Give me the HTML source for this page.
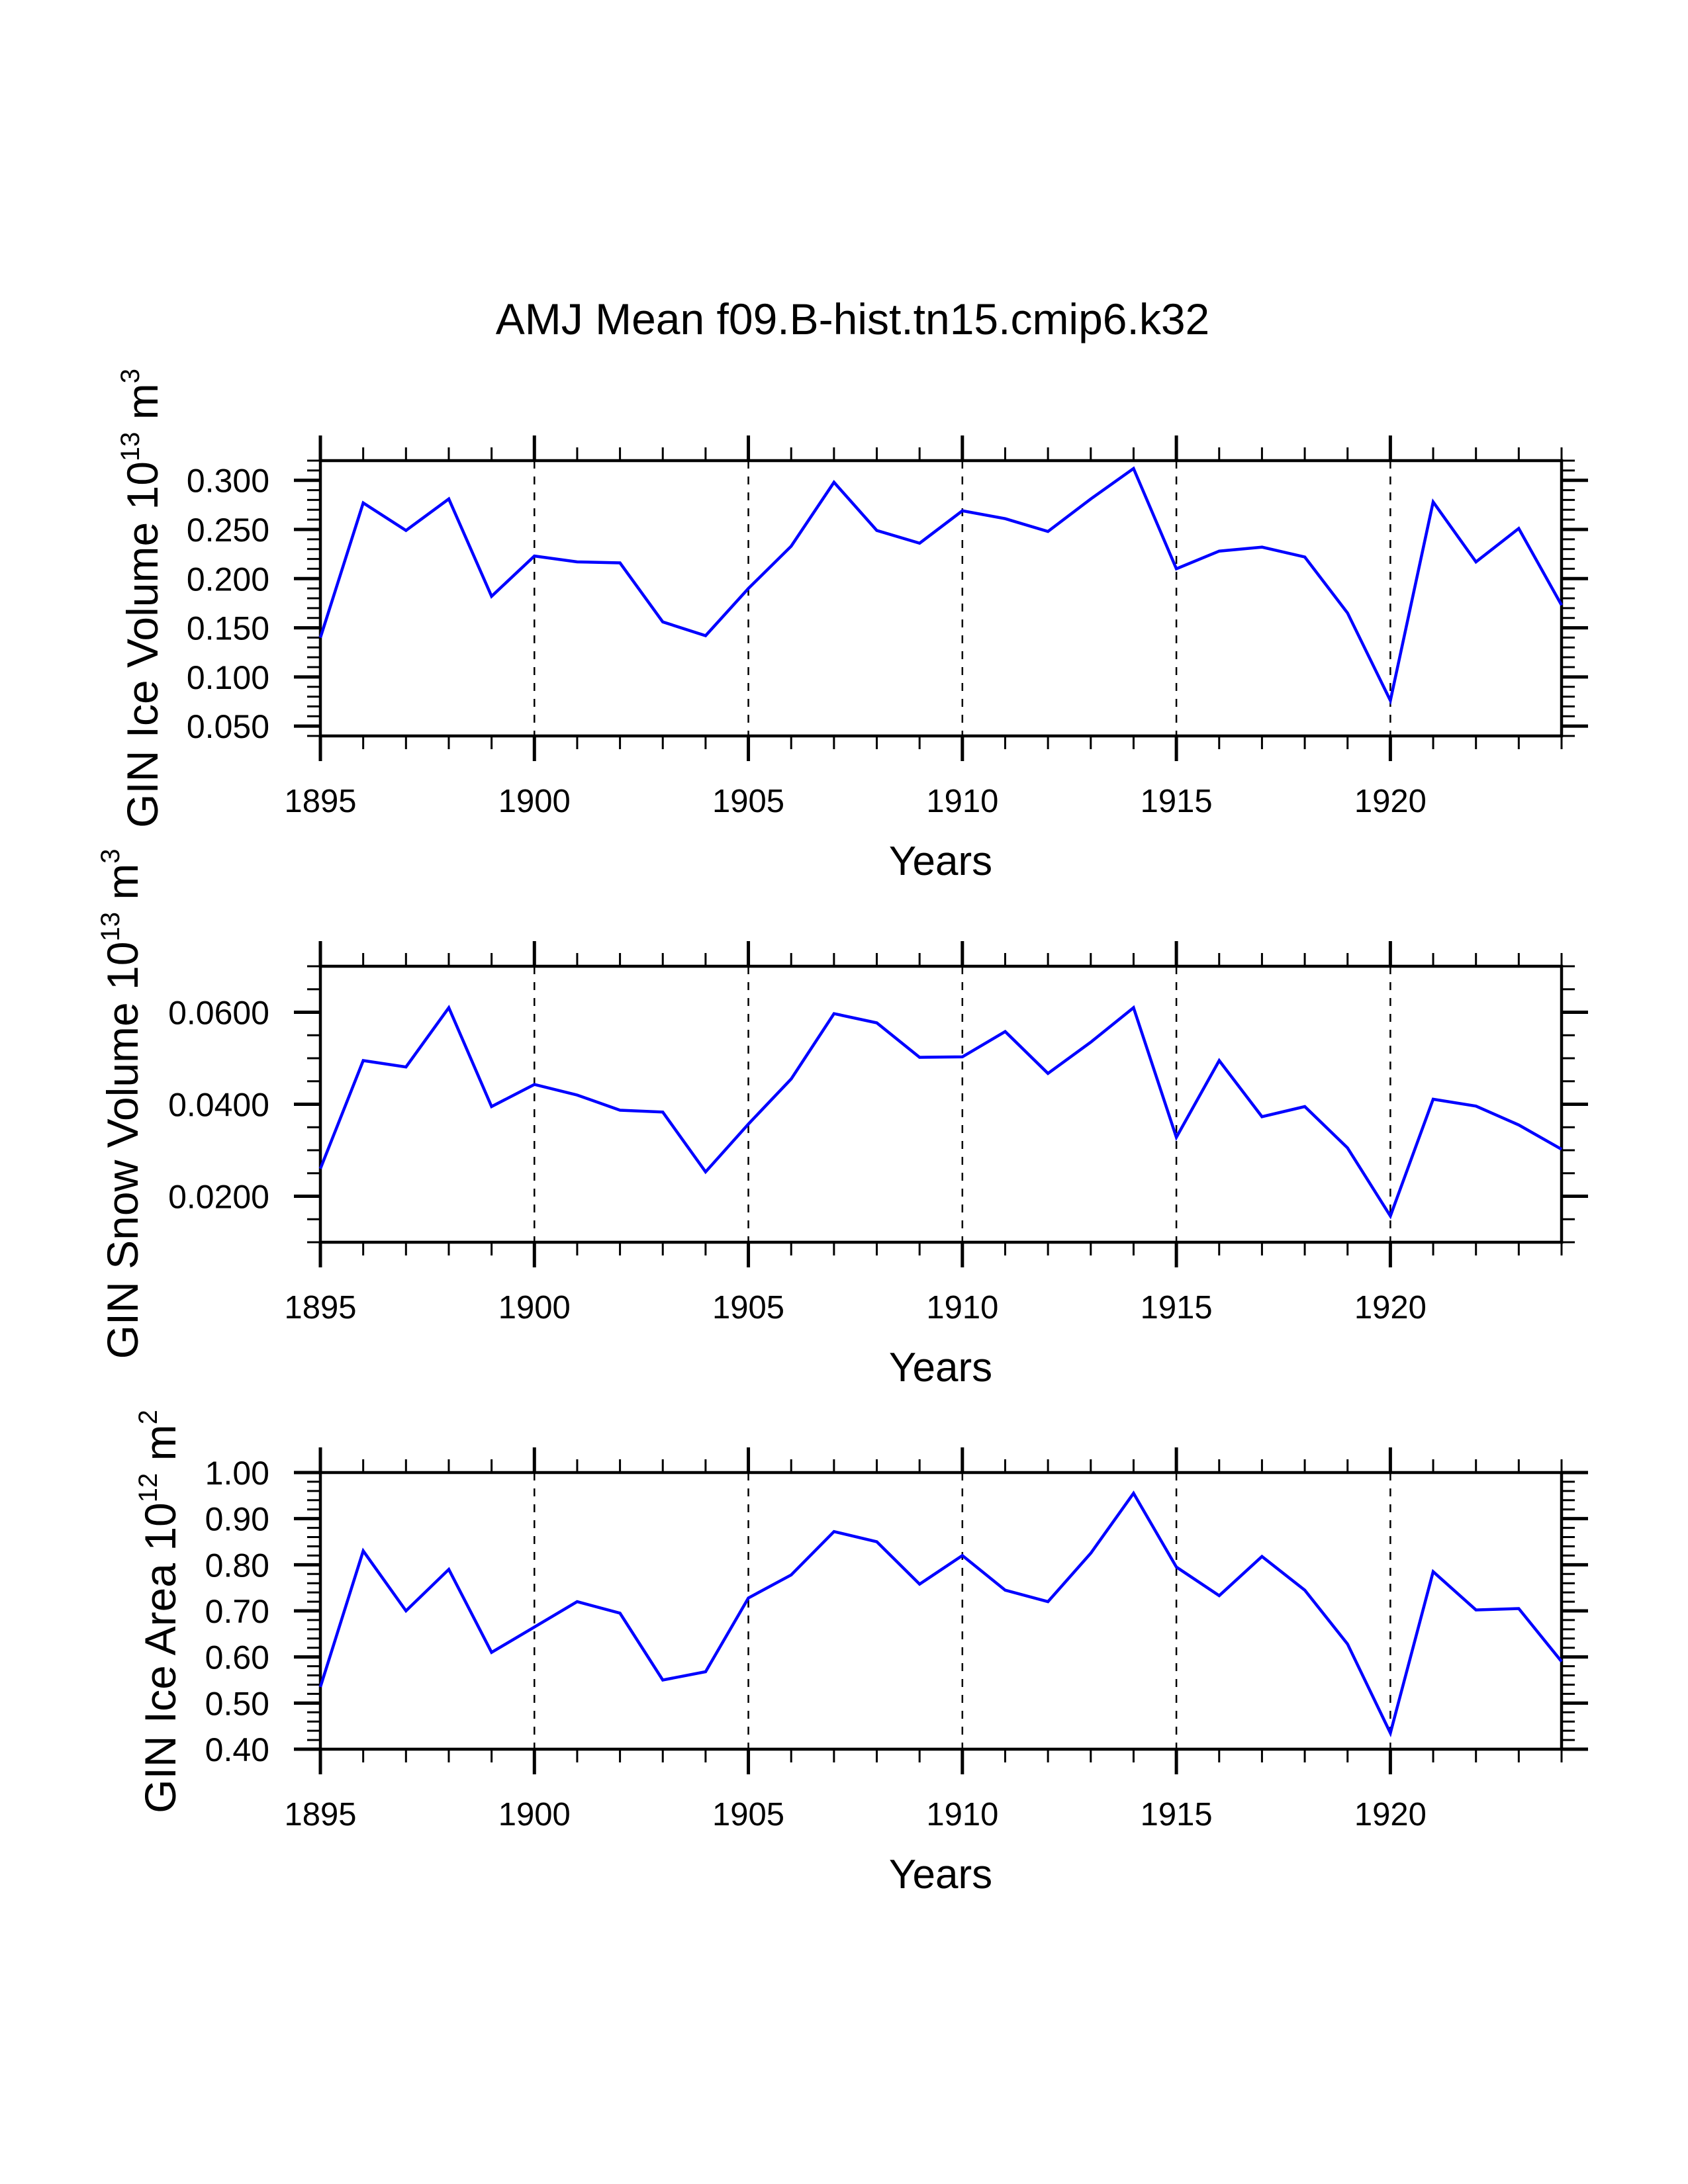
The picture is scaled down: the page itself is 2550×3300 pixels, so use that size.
<!DOCTYPE html>
<html><head><meta charset="utf-8"><style>
html,body{margin:0;padding:0;background:#fff}
svg{display:block}
text{font-family:"Liberation Sans",Arial,sans-serif;fill:#000}
</style></head><body>
<svg id="chart" width="2550" height="3300" viewBox="0 0 2550 3300" xmlns="http://www.w3.org/2000/svg">
<rect width="2550" height="3300" fill="#fff"/>
<text x="1288" y="505" font-size="66" text-anchor="middle">AMJ Mean f09.B-hist.tn15.cmip6.k32</text>
</svg>
<script>
const years = [1895,1896,1897,1898,1899,1900,1901,1902,1903,1904,1905,1906,1907,1908,1909,1910,1911,1912,1913,1914,1915,1916,1917,1918,1919,1920,1921,1922,1923,1924];
const iceVolume = [0.140,0.277,0.249,0.281,0.182,0.223,0.217,0.216,0.156,0.142,0.190,0.233,0.298,0.249,0.236,0.269,0.261,0.248,0.281,0.312,0.210,0.228,0.232,0.222,0.165,0.076,0.278,0.217,0.251,0.173];
const snowVolume = [0.0260,0.0495,0.0481,0.0610,0.0395,0.0443,0.0420,0.0387,0.0383,0.0253,0.0357,0.0455,0.0597,0.0577,0.0502,0.0503,0.0558,0.0467,0.0535,0.0610,0.0328,0.0495,0.0373,0.0395,0.0305,0.0157,0.0411,0.0396,0.0355,0.0302];
const iceArea = [0.535,0.830,0.700,0.790,0.610,0.665,0.720,0.695,0.550,0.568,0.728,0.778,0.872,0.850,0.758,0.820,0.745,0.720,0.825,0.955,0.795,0.733,0.818,0.745,0.628,0.435,0.785,0.702,0.705,0.590];
const xTickLabels = [1895,1900,1905,1910,1915,1920];
const iceVolTicks = ["0.050","0.100","0.150","0.200","0.250","0.300"];
const snowTicks = ["0.0200","0.0400","0.0600"];
const areaTicks = ["0.40","0.50","0.60","0.70","0.80","0.90","1.00"];

const NS = "http://www.w3.org/2000/svg";
const svg = document.getElementById('chart');
function mk(tag, attrs, parent){
  const e = document.createElementNS(NS, tag);
  for (const k in attrs) e.setAttribute(k, attrs[k]);
  (parent||svg).appendChild(e);
  return e;
}
const X0 = 484, X1 = 2359, XMIN = 1895, XMAX = 1924;
const xs = v => X0 + (v - XMIN) / (XMAX - XMIN) * (X1 - X0);

const panels = [
  {name:'ice-volume', top:696, bot:1112, ymin:0.04, ymax:0.32, minor:0.01, data:iceVolume, ticks:iceVolTicks,
   title:['GIN Ice Volume 10','13',' m','3'], tx:238, ty:904},
  {name:'snow-volume', top:1460, bot:1877, ymin:0.01, ymax:0.07, minor:0.005, data:snowVolume, ticks:snowTicks,
   title:['GIN Snow Volume 10','13',' m','3'], tx:208, ty:1668},
  {name:'ice-area', top:2225, bot:2643, ymin:0.40, ymax:1.00, minor:0.02, data:iceArea, ticks:areaTicks,
   title:['GIN Ice Area 10','12',' m','2'], tx:265, ty:2435}
];

panels.forEach(p => {
  const g = mk('g', {});
  
  
  const ys = v => p.bot - (v - p.ymin) / (p.ymax - p.ymin) * (p.bot - p.top);
  xTickLabels.slice(1).forEach(yr => {
    const l = mk('line', {x1:xs(yr), x2:xs(yr), y1:p.top, y2:p.bot, stroke:'#000', 'stroke-width':2.5, 'stroke-dasharray':'12,12'}, g);
    
    
  });
  for (let yr = XMIN; yr <= XMAX; yr++) {
    const major = (yr % 5 === 0);
    const len = major ? 38 : 20;
    const w = major ? 5 : 3;
    const t1 = mk('line', {x1:xs(yr), x2:xs(yr), y1:p.top, y2:p.top - len, stroke:'#000', 'stroke-width':w}, g);
    
    
    const t2 = mk('line', {x1:xs(yr), x2:xs(yr), y1:p.bot, y2:p.bot + len, stroke:'#000', 'stroke-width':w}, g);
    
    
  }
  xTickLabels.forEach(yr => {
    const t = mk('text', {x:xs(yr), y:p.bot + 115, 'font-size':49, 'text-anchor':'middle'}, g);
    t.textContent = yr;
    
    
  });
  const n = Math.round((p.ymax - p.ymin) / p.minor);
  const majorVals = p.ticks.map(Number);
  for (let i = 0; i <= n; i++) {
    const v = p.ymin + i * p.minor;
    const isMajor = majorVals.some(m => Math.abs(m - v) < p.minor / 10);
    const len = isMajor ? 40 : 20;
    const w = isMajor ? 5 : 3;
    const a = mk('line', {x1:X0, x2:X0 - len, y1:ys(v), y2:ys(v), stroke:'#000', 'stroke-width':w}, g);
    
    
    const b = mk('line', {x1:X1, x2:X1 + len, y1:ys(v), y2:ys(v), stroke:'#000', 'stroke-width':w}, g);
    
    
  }
  p.ticks.forEach(lbl => {
    const t = mk('text', {x:407, y:ys(Number(lbl)) + 18, 'font-size':50, 'text-anchor':'end'}, g);
    t.textContent = lbl;
    
    
  });
  const fr = mk('rect', {x:X0, y:p.top, width:X1 - X0, height:p.bot - p.top, fill:'none', stroke:'#000', 'stroke-width':4.5}, g);
  
  
  const pts = years.map((yr, i) => xs(yr).toFixed(1) + ',' + ys(p.data[i]).toFixed(1)).join(' ');
  const pl = mk('polyline', {points:pts, fill:'none', stroke:'#0000ff', 'stroke-width':4.5, 'stroke-linejoin':'miter'}, g);
  
  
  const xt = mk('text', {x:1421, y:p.bot + 210, 'font-size':62, 'text-anchor':'middle'}, g);
  xt.textContent = 'Years';
  
  
  const yt = mk('text', {x:0, y:0, 'font-size':66, 'text-anchor':'middle', transform:'translate(' + p.tx + ',' + p.ty + ') rotate(-90)'}, g);
  
  
  const s1 = mk('tspan', {}, yt); s1.textContent = p.title[0];
  const s2 = mk('tspan', {dy:-28, 'font-size':40}, yt); s2.textContent = p.title[1];
  const s3 = mk('tspan', {dy:28}, yt); s3.textContent = p.title[2];
  const s4 = mk('tspan', {dy:-28, 'font-size':40}, yt); s4.textContent = p.title[3];
});
</script>
</body></html>
